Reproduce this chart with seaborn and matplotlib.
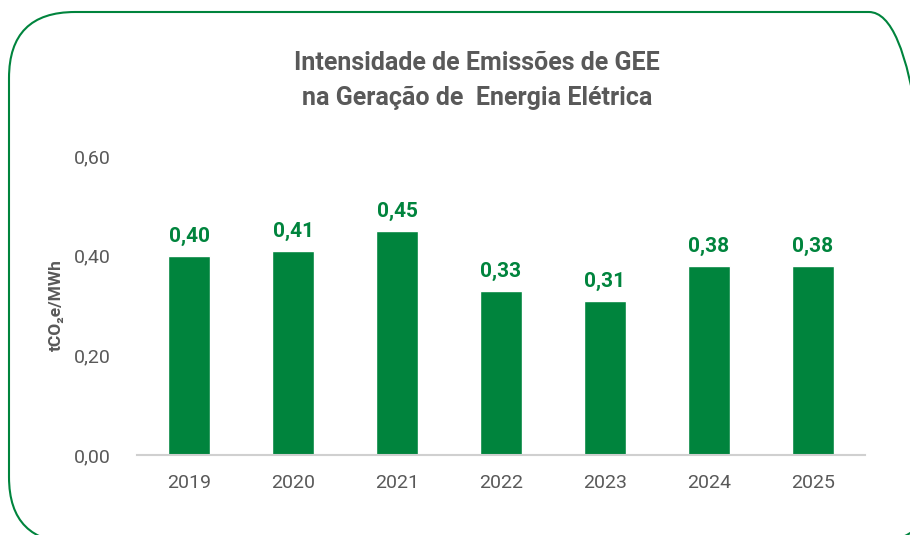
import matplotlib
matplotlib.use("Agg")
import matplotlib.pyplot as plt
from matplotlib.patches import FancyBboxPatch
import seaborn as sns
import pandas as pd

years = ["2019", "2020", "2021", "2022", "2023", "2024", "2025"]
intensity = [0.40, 0.41, 0.45, 0.33, 0.31, 0.38, 0.38]
y_ticks = [0.0, 0.2, 0.4, 0.6]
y_tick_labels = ["0,00", "0,20", "0,40", "0,60"]

GREEN = "#00843D"
GREY = "#595959"
W, H = 910, 535

sns.set_theme(style="white")
plt.rcParams["font.family"] = ["Roboto", "DejaVu Sans"]

df = pd.DataFrame({"ano": years, "valor": intensity})

fig = plt.figure(figsize=(W / 100, H / 100), dpi=100)

# rounded panel frame, drawn in pixel (display) coordinates; it runs past the right and bottom edges
frame = FancyBboxPatch((9, H - 543), 926, 531, boxstyle="round,pad=0,rounding_size=66",
                       fill=False, edgecolor=GREEN, linewidth=1.5, transform=None)
fig.patches.append(frame)

ax = fig.add_axes([137 / W, 1 - 455 / H, (865 - 137) / W, (455 - 156) / H], zorder=1)
ax.patch.set_alpha(0)

sns.barplot(data=df, x="ano", y="valor", color=GREEN, saturation=1, width=0.40, ax=ax)

for i, v in enumerate(intensity):
    ax.text(i, v + 0.02, f"{v:.2f}".replace(".", ","), ha="center", va="bottom",
            color=GREEN, fontsize=15, fontweight="bold")

ax.set_ylim(0, 0.6)
ax.set_xlim(-0.5, 6.5)
ax.set_yticks(y_ticks)
ax.set_yticklabels(y_tick_labels)
ax.tick_params(axis="both", length=0, colors=GREY, labelsize=14)
ax.tick_params(axis="y", pad=19)
ax.tick_params(axis="x", pad=14)
ax.set_xlabel("")
ax.set_ylabel("tCO₂e/MWh", color=GREY, fontsize=12.5, fontweight="bold")
ax.yaxis.set_label_coords((64 - 137) / (865 - 137), 0.5)
for side in ["top", "right", "left"]:
    ax.spines[side].set_visible(False)
ax.spines["bottom"].set_color("#D0D0D0")
ax.spines["bottom"].set_linewidth(1.5)

fig.text(477 / W, 1 - 63 / H, "Intensidade de Emissões de GEE", ha="center", va="center",
         color=GREY, fontsize=18, fontweight="bold")
fig.text(477 / W, 1 - 98 / H, "na Geração de  Energia Elétrica", ha="center", va="center",
         color=GREY, fontsize=18, fontweight="bold")

fig.savefig("out.png", dpi=100)
